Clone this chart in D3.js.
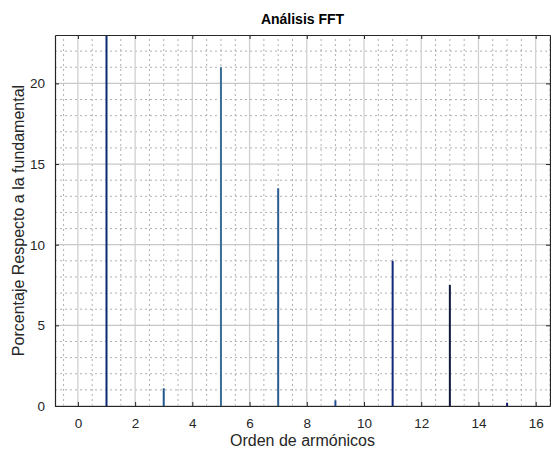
<!DOCTYPE html>
<html>
<head>
<meta charset="utf-8">
<script src="https://cdn.jsdelivr.net/npm/d3@7"></script>
<style>
  body { margin: 0; background: #fff; }
  text { font-family: "Liberation Sans", Arial, sans-serif; }
</style>
</head>
<body>
<svg id="chart" width="551" height="451"></svg>
<script>
// harmonic orders and percentage of the fundamental
const harmonics = [1, 3, 5, 7, 9, 11, 13, 15];
const percents = [100, 1.1, 21, 13.5, 0.35, 9, 7.5, 0.2];
const stemColors = ["#0a2a72", "#24588c", "#3b6e95", "#2c5e90", "#1f4f90", "#14287a", "#121a3c", "#1a1a70"];
const xTicks = [0, 2, 4, 6, 8, 10, 12, 14, 16];
const yTicks = [0, 5, 10, 15, 20];

const svg = d3.select("#chart");
const margin = { left: 55, right: 1, top: 35, bottom: 45 };
const W = 551, H = 451;

const x = d3.scaleLinear().domain([-0.8, 16.5]).range([margin.left, W - margin.right]);
const y = d3.scaleLinear().domain([0, 23]).range([H - margin.bottom, margin.top]);

const plot = svg.append("g");

svg.append("defs").append("clipPath").attr("id", "clip")
    .append("rect")
    .attr("x", x.range()[0]).attr("y", y.range()[1])
    .attr("width", x.range()[1] - x.range()[0])
    .attr("height", y.range()[0] - y.range()[1]);

// minor grid
const xMinor = d3.range(-0.5, 16.51, 0.5).filter(v => v % 2 !== 0);
const yMinor = d3.range(1, 23, 1).filter(v => v % 5 !== 0);

plot.selectAll(".xminor").data(xMinor).enter().append("line")
    .attr("x1", d => x(d)).attr("x2", d => x(d))
    .attr("y1", y(0)).attr("y2", y(23))
    .attr("stroke", "#b0b0b0").attr("stroke-width", 1)
    .attr("stroke-dasharray", "2,3");

plot.selectAll(".yminor").data(yMinor).enter().append("line")
    .attr("x1", x(-0.8)).attr("x2", x(16.5))
    .attr("y1", d => y(d)).attr("y2", d => y(d))
    .attr("stroke", "#b0b0b0").attr("stroke-width", 1)
    .attr("stroke-dasharray", "2,3");

// major grid
plot.selectAll(".xmajor").data(xTicks).enter().append("line")
    .attr("x1", d => x(d)).attr("x2", d => x(d))
    .attr("y1", y(0)).attr("y2", y(23))
    .attr("stroke", "#d0d0d0").attr("stroke-width", 1.3);

plot.selectAll(".ymajor").data(yTicks).enter().append("line")
    .attr("x1", x(-0.8)).attr("x2", x(16.5))
    .attr("y1", d => y(d)).attr("y2", d => y(d))
    .attr("stroke", "#c8c8c8").attr("stroke-width", 1.3);

// stems
const data = harmonics.map((h, i) => ({ h: h, v: percents[i], c: stemColors[i] }));
plot.append("g").attr("clip-path", "url(#clip)")
    .selectAll(".stem").data(data).enter().append("line")
    .attr("class", "stem")
    .attr("x1", d => x(d.h)).attr("x2", d => x(d.h))
    .attr("y1", y(0)).attr("y2", d => y(d.v))
    .attr("stroke", d => d.c).attr("stroke-width", 2);

// axes
const axisColor = "#262626";
const xAxis = svg.append("g").attr("transform", `translate(0,${y(0)})`)
    .call(d3.axisBottom(x).tickValues(xTicks).tickSize(-4).tickPadding(12).tickSizeOuter(0));
const xTop = svg.append("g").attr("transform", `translate(0,${y(23)})`)
    .call(d3.axisTop(x).tickValues(xTicks).tickSize(-4).tickFormat("").tickSizeOuter(0));
const yAxis = svg.append("g").attr("transform", `translate(${x(-0.8)},0)`)
    .call(d3.axisLeft(y).tickValues(yTicks).tickSize(-4).tickPadding(10).tickSizeOuter(0));
const yRight = svg.append("g").attr("transform", `translate(${x(16.5)},0)`)
    .call(d3.axisRight(y).tickValues(yTicks).tickSize(-4).tickFormat("").tickSizeOuter(0));

[xAxis, xTop, yAxis, yRight].forEach(g => {
    g.select(".domain").attr("stroke", axisColor).attr("stroke-width", 1.2);
    g.selectAll(".tick line").attr("stroke", axisColor);
    g.selectAll(".tick text").attr("fill", "#262626").style("font-size", "13.5px")
        .style("font-family", "'Liberation Sans', Arial, sans-serif");
});

svg.append("text")
    .attr("x", (x.range()[0] + x.range()[1]) / 2).attr("y", 24)
    .attr("text-anchor", "middle")
    .style("font-weight", "bold").style("font-size", "14px")
    .text("Análisis FFT");

svg.append("text")
    .attr("x", (x.range()[0] + x.range()[1]) / 2).attr("y", 446)
    .attr("text-anchor", "middle")
    .style("font-size", "16px").attr("fill", "#262626")
    .text("Orden de armónicos");

svg.append("text")
    .attr("transform", `translate(24,${(y.range()[0] + y.range()[1]) / 2}) rotate(-90)`)
    .attr("text-anchor", "middle")
    .style("font-size", "16px").attr("fill", "#262626")
    .text("Porcentaje Respecto a la fundamental");
</script>
</body>
</html>
